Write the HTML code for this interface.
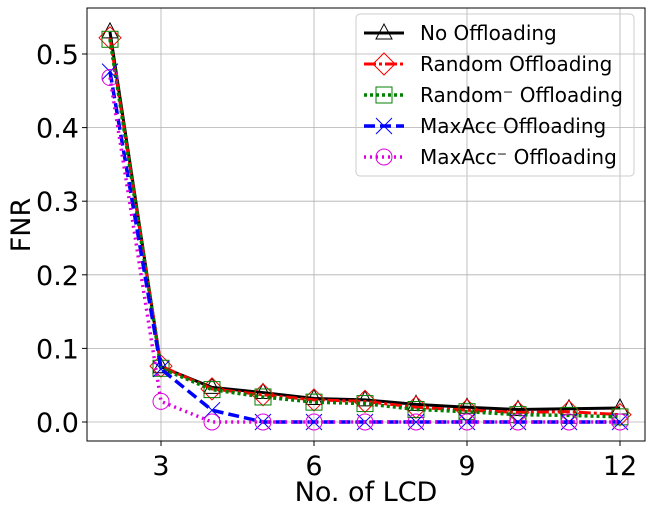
<!DOCTYPE html>
<html><head><meta charset="utf-8"><style>body{margin:0;background:#fff}svg{display:block;font-family:"DejaVu Sans","Liberation Sans",sans-serif}</style></head>
<body>
<svg id="c" width="650" height="512"></svg>
<script>
const categories=[2,3,4,5,6,7,8,9,10,11,12];
const noOff=[0.53,0.075,0.047,0.04,0.032,0.03,0.024,0.02,0.017,0.018,0.019];
const randOff=[0.522,0.076,0.045,0.037,0.03,0.028,0.02,0.016,0.013,0.014,0.01];
const randMinus=[0.52,0.073,0.044,0.034,0.027,0.025,0.017,0.014,0.01,0.009,0.007];
const maxAcc=[0.476,0.072,0.016,0,0,0,0,0,0,0,0];
const maxAccMinus=[0.468,0.028,0,0,0,0,0,0,0,0,0];
const xTicks=[3,6,9,12];
const yTicks=[0,0.1,0.2,0.3,0.4,0.5];
const L=87,R=645,T=8,B=441;
const X=v=>110+(v-2)*51;
const Y=v=>422-v*736;
const s=document.getElementById('c');
const NS='http://www.w3.org/2000/svg';
function mk(t,a,p){const e=document.createElementNS(NS,t);for(const k in a)e.setAttribute(k,a[k]);(p||s).appendChild(e);return e;}
let g=mk('g',{});


xTicks.forEach(v=>{mk('line',{x1:X(v),x2:X(v),y1:T,y2:B,stroke:'#b0b0b0','stroke-width':0.8},g);
const t=mk('text',{x:X(v),y:475,'font-size':27,'text-anchor':'middle'});t.textContent=v;

mk('line',{x1:X(v),x2:X(v),y1:B,y2:B+5,stroke:'#000'});});
yTicks.forEach(v=>{mk('line',{x1:L,x2:R,y1:Y(v),y2:Y(v),stroke:'#b0b0b0','stroke-width':0.8},g);
const t=mk('text',{x:79,y:Y(v)+10,'font-size':27,'text-anchor':'end'});t.textContent=v.toFixed(1);

mk('line',{x1:L-5,x2:L,y1:Y(v),y2:Y(v),stroke:'#000'});});
const fr=mk('rect',{x:L,y:T,width:R-L,height:B-T,fill:'none',stroke:'#000','stroke-width':1});

function marker(type,x,y,col,p){
 if(type==='tri')mk('polygon',{points:`${x},${y-9} ${x-8},${y+6} ${x+8},${y+6}`,fill:'none',stroke:col,'stroke-width':1},p);
 if(type==='dia')mk('polygon',{points:`${x},${y-11} ${x+11},${y} ${x},${y+11} ${x-11},${y}`,fill:'none',stroke:col,'stroke-width':1},p);
 if(type==='sq')mk('rect',{x:x-8,y:y-8,width:16,height:16,fill:'none',stroke:col,'stroke-width':1},p);
 if(type==='x'){mk('line',{x1:x-8,y1:y-8,x2:x+8,y2:y+8,stroke:col,'stroke-width':1},p);mk('line',{x1:x-8,y1:y+8,x2:x+8,y2:y-8,stroke:col,'stroke-width':1},p);}
 if(type==='o')mk('circle',{cx:x,cy:y,r:8,fill:'none',stroke:col,'stroke-width':1},p);
}
const series=[
 {n:'No Offloading',d:noOff,c:'#000',dash:'',m:'tri',w:3,id:'series-no-offloading'},
 {n:'Random Offloading',d:randOff,c:'#ff0000',dash:'12 3 3 3',m:'dia',w:3,id:'series-random-offloading'},
 {n:'Random⁻ Offloading',d:randMinus,c:'#008000',dash:'3 3',m:'sq',w:3.5,id:'series-random-minus-offloading'},
 {n:'MaxAcc Offloading',d:maxAcc,c:'#0000ff',dash:'11 5',m:'x',w:3.5,id:'series-maxacc-offloading'},
 {n:'MaxAcc⁻ Offloading',d:maxAccMinus,c:'#dd00dd',dash:'2 4',m:'o',w:3.5,id:'series-maxacc-minus-offloading'}];
series.forEach((se,i)=>{
 const gg=mk('g',{});
 
 mk('polyline',{points:categories.map((c,j)=>X(c)+','+Y(se.d[j])).join(' '),fill:'none',stroke:se.c,'stroke-width':se.w,'stroke-dasharray':se.dash},gg);
 categories.forEach((c,j)=>marker(se.m,X(c),Y(se.d[j]),se.c,gg));
 const ly=33+i*31;
 const lg=mk('g',{});
 
 mk('line',{x1:364,x2:404,y1:ly,y2:ly,stroke:se.c,'stroke-width':se.w,'stroke-dasharray':se.dash},lg);
 marker(se.m,384,ly,se.c,lg);
 const t=mk('text',{x:420,y:ly+7,'font-size':20},lg);t.textContent=se.n;
});
const lb=mk('rect',{x:356,y:14,width:278,height:162,rx:4,fill:'none',stroke:'#ccc'});

let t=mk('text',{x:366,y:501,'font-size':27,'text-anchor':'middle'});t.textContent='No. of LCD';

t=mk('text',{x:30,y:225,'font-size':27,'text-anchor':'middle',transform:'rotate(-90 30 225)'});t.textContent='FNR';

</script>
</body></html>
